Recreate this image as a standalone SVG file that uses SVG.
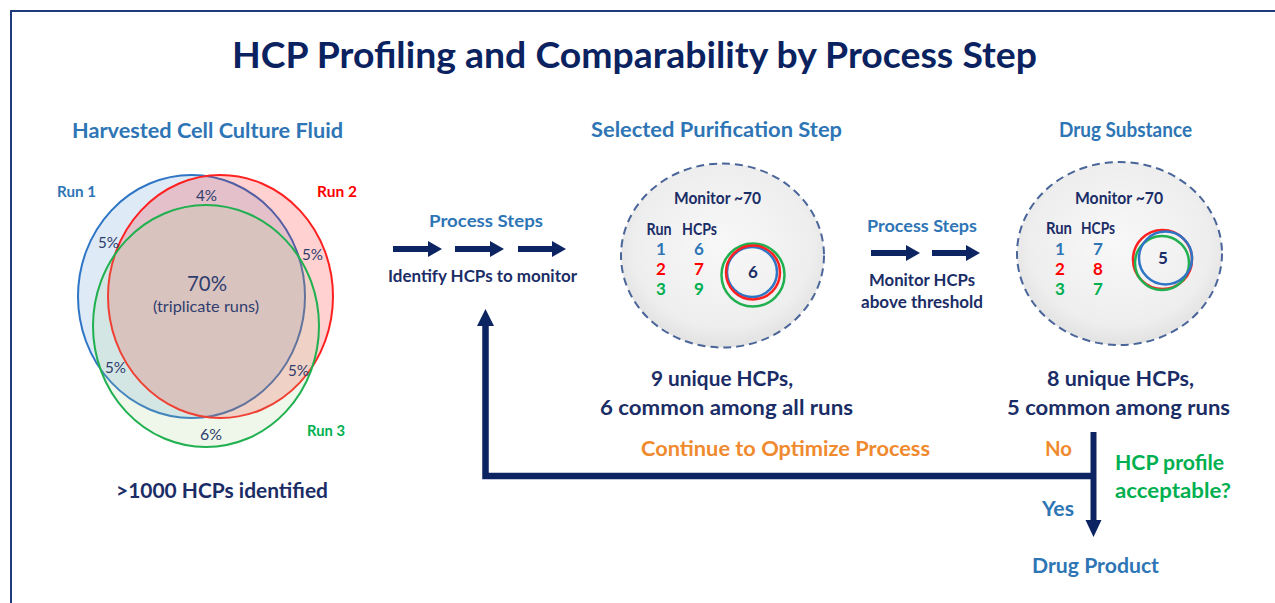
<svg xmlns="http://www.w3.org/2000/svg" width="1275" height="603" viewBox="0 0 1275 603">
<defs>
<radialGradient id="gray" cx="50%" cy="45%" r="55%">
<stop offset="0" stop-color="#f8f8f8"/>
<stop offset="0.8" stop-color="#eeeeee"/>
<stop offset="1" stop-color="#e2e2e2"/>
</radialGradient>
<style>
text{font-family:Lato,"Liberation Sans",sans-serif;font-weight:bold;text-anchor:middle}
.title{font-size:37px;fill:#0b2260}
.hdr{font-size:21px;fill:#2e75b6}
.navy{fill:#1b2d66}
.blue{fill:#2e75b6}
.red{fill:#ff0000}
.green{fill:#00b050}
.orange{fill:#f08a2e}
.pct{font-weight:normal;font-size:15px;fill:#2f3d6e}
.big{font-size:21px}
.mid{font-size:17px}
.sm{font-size:15px}
.dash{fill:url(#gray);stroke:#4a6599;stroke-width:2;stroke-dasharray:8 5}
.ring{fill:none;stroke-width:2.5}
.conn{stroke:#0c2461;fill:none}
.head{fill:#0c2461}
</style>
</defs>
<rect x="11" y="11" width="1290" height="620" fill="none" stroke="#1f3a7a" stroke-width="2"/>
<text class="title" x="634.5" y="68" textLength="805" lengthAdjust="spacingAndGlyphs">HCP Profiling and Comparability by Process Step</text>

<g id="hccf">
<text class="hdr" x="207.5" y="138" textLength="271" lengthAdjust="spacingAndGlyphs">Harvested Cell Culture Fluid</text>
<ellipse cx="191.5" cy="296.5" rx="113.5" ry="121.5" fill="#5b9bd5" fill-opacity="0.2" stroke="#2e75c6" stroke-width="2"/>
<ellipse cx="220.5" cy="296.5" rx="112.5" ry="121.5" fill="#ff0000" fill-opacity="0.18" stroke="#ff2020" stroke-width="2"/>
<ellipse cx="206" cy="326" rx="113" ry="121" fill="#a9d18e" fill-opacity="0.18" stroke="#20b050" stroke-width="2"/>
<text class="sm blue" x="76.5" y="197" textLength="39" lengthAdjust="spacingAndGlyphs">Run 1</text>
<text class="sm red" x="337" y="197" textLength="40" lengthAdjust="spacingAndGlyphs">Run 2</text>
<text class="sm green" x="326" y="436" textLength="38" lengthAdjust="spacingAndGlyphs">Run 3</text>
<text class="pct" x="206.5" y="201" textLength="21" lengthAdjust="spacingAndGlyphs">4%</text>
<text class="pct" x="108.5" y="248" textLength="21" lengthAdjust="spacingAndGlyphs">5%</text>
<text class="pct" x="312.5" y="260" textLength="21" lengthAdjust="spacingAndGlyphs">5%</text>
<text class="pct" x="207" y="291" style="font-size:22px" textLength="40" lengthAdjust="spacingAndGlyphs">70%</text>
<text class="pct" x="206" y="312" textLength="106" lengthAdjust="spacingAndGlyphs">(triplicate runs)</text>
<text class="pct" x="115.5" y="373" textLength="21" lengthAdjust="spacingAndGlyphs">5%</text>
<text class="pct" x="298.5" y="376" textLength="21" lengthAdjust="spacingAndGlyphs">5%</text>
<text class="pct" x="211" y="440" textLength="22" lengthAdjust="spacingAndGlyphs">6%</text>
<text class="big navy" x="222" y="498" textLength="212" lengthAdjust="spacingAndGlyphs">&gt;1000 HCPs identified</text>
</g>

<g id="steps1">
<text class="mid blue" x="486" y="227" textLength="114" lengthAdjust="spacingAndGlyphs">Process Steps</text>
<text class="mid navy" x="482.5" y="282" textLength="189" lengthAdjust="spacingAndGlyphs">Identify HCPs to monitor</text>
</g>

<g id="purification">
<text class="hdr" x="716.5" y="137" textLength="251" lengthAdjust="spacingAndGlyphs">Selected Purification Step</text>
<ellipse class="dash" cx="722.5" cy="255.5" rx="101.5" ry="92"/>
<text class="mid navy" x="717.5" y="204" textLength="87" lengthAdjust="spacingAndGlyphs">Monitor ~70</text>
<text class="mid navy" x="659" y="235" textLength="25" lengthAdjust="spacingAndGlyphs">Run</text>
<text class="mid navy" x="699.5" y="235" textLength="35" lengthAdjust="spacingAndGlyphs">HCPs</text>
<text class="mid blue" x="661" y="255">1</text>
<text class="mid blue" x="699" y="255">6</text>
<text class="mid red" x="661" y="275">2</text>
<text class="mid red" x="699" y="275">7</text>
<text class="mid green" x="661" y="295">3</text>
<text class="mid green" x="699" y="295">9</text>
<circle class="ring" cx="753" cy="275" r="31.5" stroke="#20b050"/>
<circle class="ring" cx="752" cy="272" r="25" stroke="#2e75c6"/>
<circle class="ring" cx="753" cy="272.5" r="27" stroke="#ff2020"/>
<text class="mid navy" x="753" y="278">6</text>
<text class="big navy" x="722" y="386" textLength="142" lengthAdjust="spacingAndGlyphs">9 unique HCPs,</text>
<text class="big navy" x="726.5" y="415" textLength="253" lengthAdjust="spacingAndGlyphs">6 common among all runs</text>
</g>

<g id="steps2">
<text class="mid blue" x="922" y="232" textLength="110" lengthAdjust="spacingAndGlyphs">Process Steps</text>
<text class="mid navy" x="922" y="286" textLength="106" lengthAdjust="spacingAndGlyphs">Monitor HCPs</text>
<text class="mid navy" x="922" y="308" textLength="122" lengthAdjust="spacingAndGlyphs">above threshold</text>
</g>

<g id="drugsubstance">
<text class="hdr" x="1125.5" y="137" textLength="133" lengthAdjust="spacingAndGlyphs">Drug Substance</text>
<ellipse class="dash" cx="1119.5" cy="253.5" rx="102.5" ry="91.5"/>
<text class="mid navy" x="1119" y="204" textLength="88" lengthAdjust="spacingAndGlyphs">Monitor ~70</text>
<text class="mid navy" x="1059" y="234" textLength="26" lengthAdjust="spacingAndGlyphs">Run</text>
<text class="mid navy" x="1098" y="234" textLength="34" lengthAdjust="spacingAndGlyphs">HCPs</text>
<text class="mid blue" x="1060" y="255">1</text>
<text class="mid blue" x="1098" y="255">7</text>
<text class="mid red" x="1060" y="275">2</text>
<text class="mid red" x="1098" y="275">8</text>
<text class="mid green" x="1060" y="295">3</text>
<text class="mid green" x="1098" y="295">7</text>
<circle class="ring" cx="1162.5" cy="259.5" r="29.5" stroke="#ff2020"/>
<circle class="ring" cx="1162" cy="263" r="27" stroke="#20b050"/>
<circle class="ring" cx="1165.5" cy="258" r="26.5" stroke="#2e75c6"/>
<text class="mid navy" x="1163" y="264">5</text>
<text class="big navy" x="1120.5" y="386" textLength="147" lengthAdjust="spacingAndGlyphs">8 unique HCPs,</text>
<text class="big navy" x="1118.5" y="415" textLength="223" lengthAdjust="spacingAndGlyphs">5 common among runs</text>
</g>

<g id="decision">
<text class="big orange" x="785.5" y="456" textLength="289" lengthAdjust="spacingAndGlyphs">Continue to Optimize Process</text>
<text class="big orange" x="1058.5" y="456" textLength="27" lengthAdjust="spacingAndGlyphs">No</text>
<text class="big green" x="1169.5" y="470" textLength="109" lengthAdjust="spacingAndGlyphs">HCP profile</text>
<text class="big green" x="1173" y="498" textLength="116" lengthAdjust="spacingAndGlyphs">acceptable?</text>
<text class="big blue" x="1058" y="516" textLength="32" lengthAdjust="spacingAndGlyphs">Yes</text>
</g>

<g id="drugproduct">
<text class="big blue" x="1095.5" y="573" textLength="127" lengthAdjust="spacingAndGlyphs">Drug Product</text>
</g>

<g id="connectors">
<line class="conn" x1="393" y1="249" x2="430" y2="249" stroke-width="6"/>
<polygon class="head" points="428,241 442,249 428,257"/>
<line class="conn" x1="455" y1="249" x2="492" y2="249" stroke-width="6"/>
<polygon class="head" points="490,241 504,249 490,257"/>
<line class="conn" x1="518" y1="249" x2="554" y2="249" stroke-width="6"/>
<polygon class="head" points="552,241 566,249 552,257"/>
<line class="conn" x1="871" y1="253" x2="908" y2="253" stroke-width="6"/>
<polygon class="head" points="906,245 920,253 906,261"/>
<line class="conn" x1="932" y1="253" x2="968" y2="253" stroke-width="6"/>
<polygon class="head" points="966,245 980,253 966,261"/>
<polyline class="conn" points="1093.5,476 485.5,476 485.5,324" stroke-width="6.5" stroke-linejoin="miter"/>
<polygon class="head" points="477,326 485.5,309 494,326"/>
<line class="conn" x1="1093.5" y1="432" x2="1093.5" y2="522" stroke-width="6"/>
<polygon class="head" points="1085.5,520 1093.5,537 1101.5,520"/>
</g>
</svg>
